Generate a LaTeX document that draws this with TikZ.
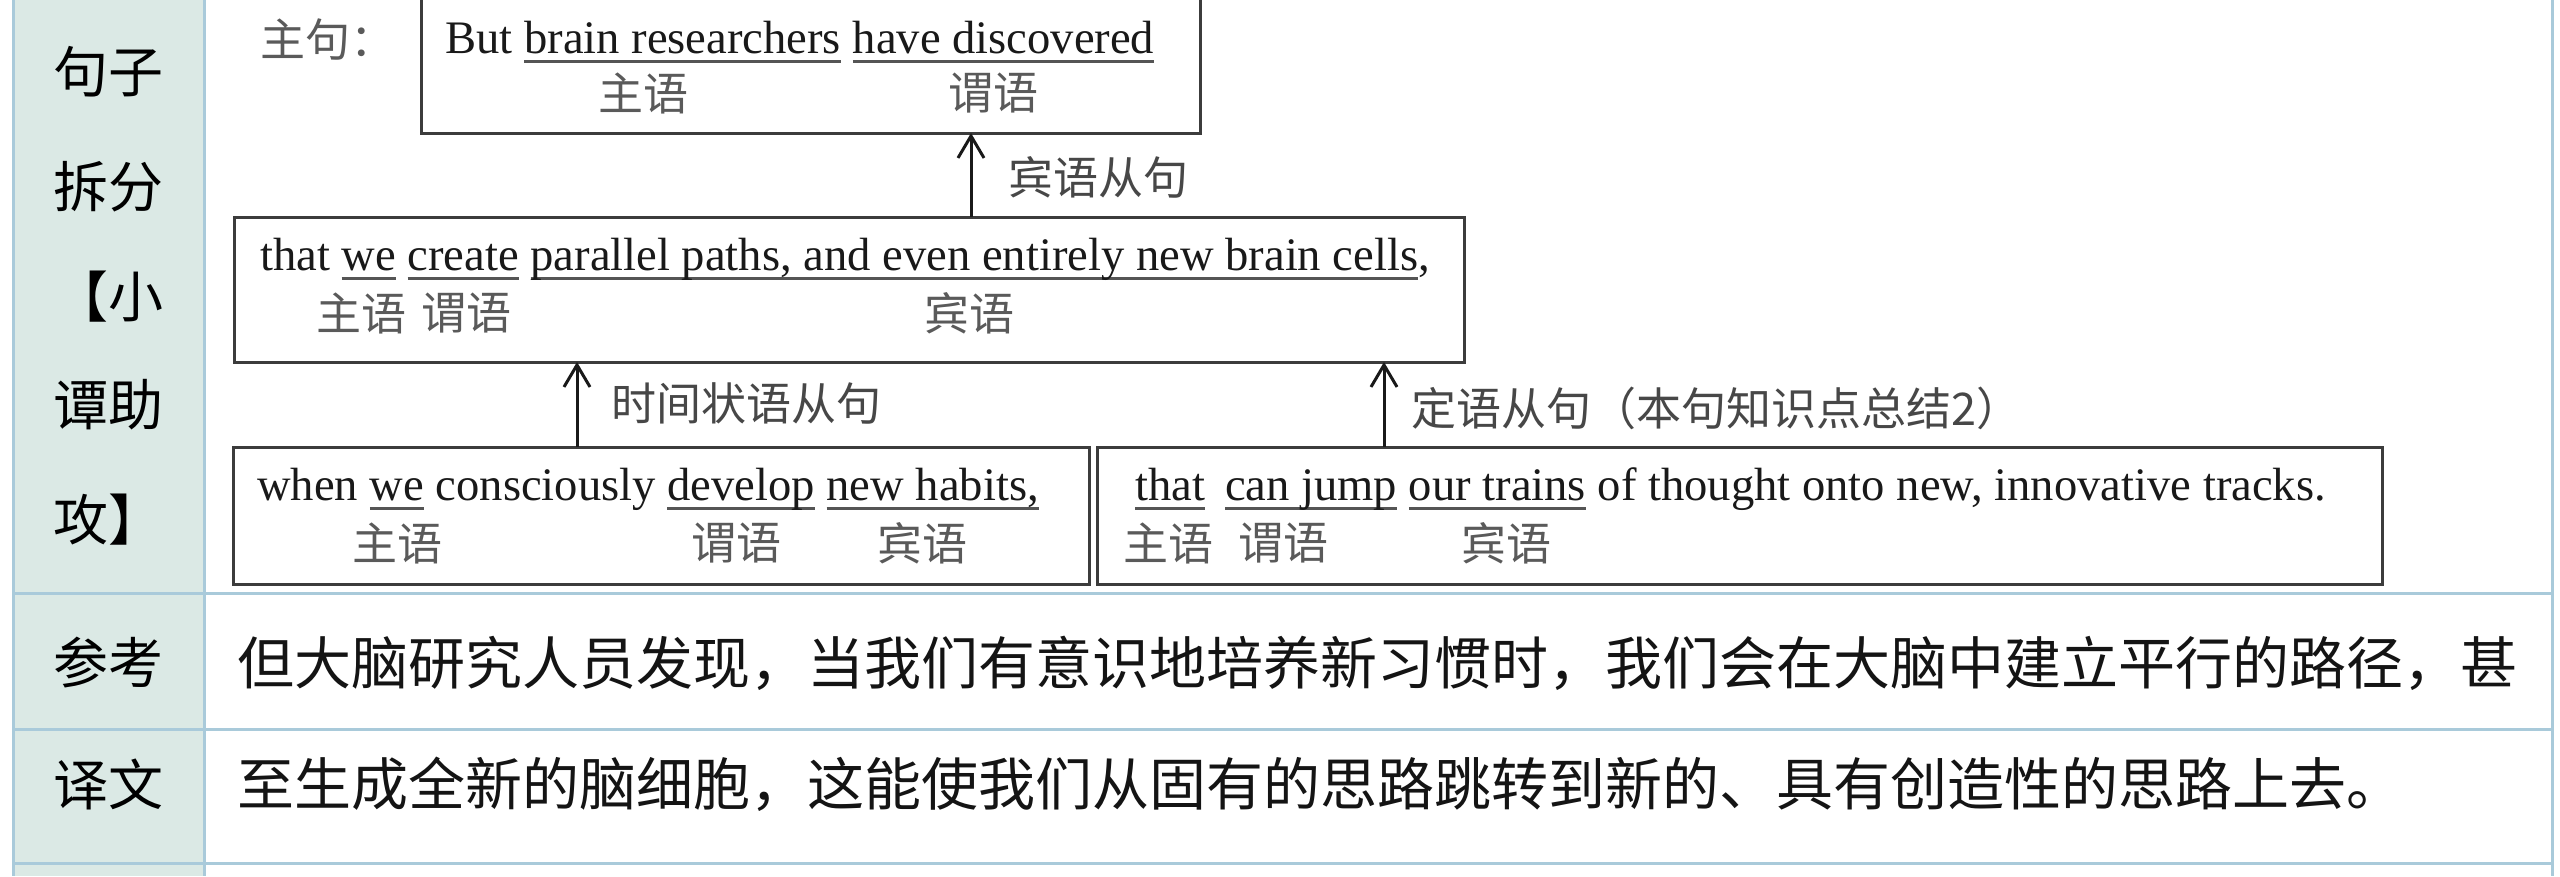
\documentclass[tikz,border=0pt]{standalone}
\usepackage{fontspec}
\setmainfont{Liberation Serif}
\newfontfamily\cjk{Noto Sans CJK SC}
\usetikzlibrary{arrows.meta}
\definecolor{tline}{HTML}{A9CADA}
\definecolor{lfill}{HTML}{DBE9E5}
\definecolor{lgray}{HTML}{5A5A5A}
\definecolor{ulc}{HTML}{555555}
\definecolor{boxc}{HTML}{3C3C3C}
\newsavebox\ulbox
\newcommand\ulx[1]{\sbox\ulbox{#1}\rlap{\textcolor{ulc}{\rule[-10pt]{\wd\ulbox}{3pt}}}\usebox\ulbox}
\tikzset{
  boxst/.style={draw=boxc, line width=3pt, inner sep=0pt, outer sep=0pt, anchor=north west},
  entxt/.style={anchor=base west, inner sep=0pt, font=\fontsize{46.6}{56}\selectfont, text=black!90},
  lab/.style={inner sep=0pt, font=\cjk\fontsize{45}{50}\selectfont, text=lgray},
  arrlab/.style={anchor=west, inner sep=0pt, font=\cjk\fontsize{45}{50}\selectfont, text=black!72},
  side/.style={inner sep=0pt, font=\cjk\fontsize{55}{60}\selectfont, text=black},
  mainrow/.style={anchor=west, inner sep=0pt, font=\cjk\fontsize{57}{62}\selectfont, text=black!92},
  uparrow/.style={-{Straight Barb[length=22pt,width=26pt]}, line width=3pt, draw=black!90},
  tl/.style={draw=tline, line width=3pt}
}
\begin{document}
\begin{tikzpicture}[x=1pt,y=-1pt]
\useasboundingbox (0,0) rectangle (2560,876);
\fill[white] (0,0) rectangle (2560,876);
% table
\fill[lfill] (13,0) rectangle (204,876);
\draw[tl] (13,0) -- (13,876);
\draw[tl] (204,0) -- (204,876);
\draw[tl] (2552,0) -- (2552,876);
\draw[tl] (13,593) -- (2552,593);
\draw[tl] (13,729) -- (2552,729);
\draw[tl] (13,863) -- (2552,863);
% side column
\node[side] (s1) at (108,72) {句子};
\node[side] (s2) at (108,187) {拆分};
\node[side] (s3) at (108,297) {【小};
\node[side] (s4) at (108,405) {谭助};
\node[side] (s5) at (108,520) {攻】};
\node[side] (s6) at (108,663) {参考};
\node[side] (s7) at (108,784) {译文};
% main rows
\node[mainrow] (m1) at (237,663) {但大脑研究人员发现，当我们有意识地培养新习惯时，我们会在大脑中建立平行的路径，甚};
\node[mainrow] (m2) at (237,784) {至生成全新的脑细胞，这能使我们从固有的思路跳转到新的、具有创造性的思路上去。};
% boxes
\node[boxst, minimum width=779pt, minimum height=143pt] (b1) at (421,-10) {};
\node[boxst, minimum width=1230pt, minimum height=145pt] (b2) at (234,217) {};
\node[boxst, minimum width=856pt, minimum height=137pt] (b3) at (233,447) {};
\node[boxst, minimum width=1285pt, minimum height=137pt] (b4) at (1097,447) {};
% box 1
\node[lab, anchor=west] (zj) at (260,40) {主句：};
\node[entxt] (t1) at (445,53) {But \ulx{brain researchers} \ulx{have discovered}};
\node[lab] (l11) at (643,93) {主语};
\node[lab] (l12) at (993,93) {谓语};
% box 2
\node[entxt] (t2) at (260,270) {that \ulx{we} \ulx{create} \ulx{parallel paths, and even entirely new brain cells},};
\node[lab] (l21) at (361,313) {主语};
\node[lab] (l22) at (466,313) {谓语};
\node[lab] (l23) at (969,313) {宾语};
% box 3
\node[entxt] (t3) at (257,500) {when \ulx{we} consciously \ulx{develop} \ulx{new habits,}};
\node[lab] (l31) at (397,543) {主语};
\node[lab] (l32) at (736,543) {谓语};
\node[lab] (l33) at (922,543) {宾语};
% box 4
\node[entxt] (t4) at (1135,500) {\ulx{that}\hspace{20pt}\ulx{can jump} \ulx{our trains} of thought onto new, innovative tracks.};
\node[lab] (l41) at (1168,543) {主语};
\node[lab] (l42) at (1283,543) {谓语};
\node[lab] (l43) at (1506,543) {宾语};
% arrows
\coordinate (c1) at (971,0);
\coordinate (c2) at (577,0);
\coordinate (c3) at (1384,0);
\draw[uparrow] (b2.north -| c1) -- (b1.south -| c1);
\draw[uparrow] (b3.north -| c2) -- (b2.south -| c2);
\draw[uparrow] (b4.north -| c3) -- (b2.south -| c3);
\node[arrlab] (a1) at (1008,177) {宾语从句};
\node[arrlab] (a2) at (611,403) {时间状语从句};
\node[arrlab] (a3) at (1411,408) {定语从句（本句知识点总结2）};
\end{tikzpicture}
\end{document}
